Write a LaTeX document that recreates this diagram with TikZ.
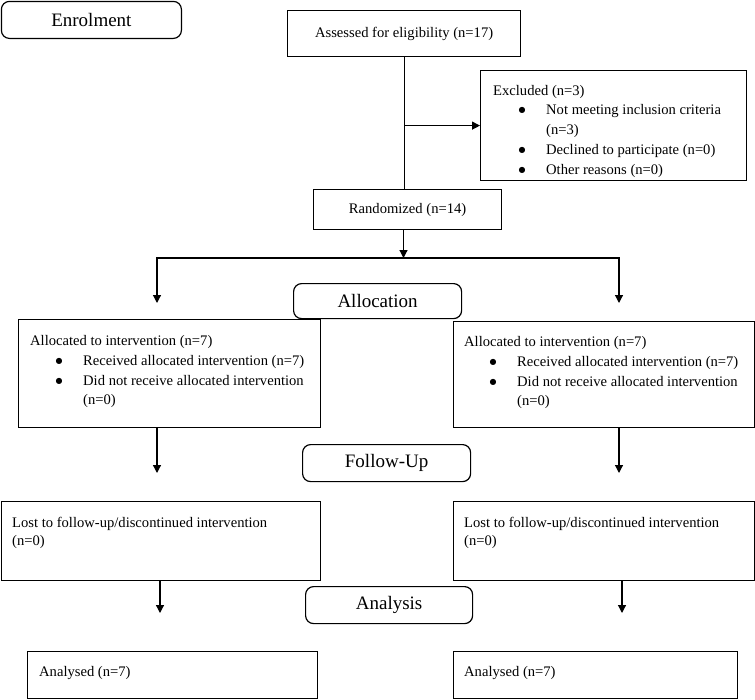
\documentclass[tikz,border=0pt]{standalone}
\usepackage{fontspec}
\setmainfont{Liberation Serif}
\newfontfamily\symfont{DejaVu Sans}
\usetikzlibrary{arrows.meta}
\newcommand\bitem[1]{\makebox[53pt][l]{\hspace*{25.5pt}\raisebox{2pt}{\symfont\fontsize{8}{8}\selectfont ●}}#1}
\newcommand\bcont[1]{\hspace*{53pt}#1}
\begin{document}
\begin{tikzpicture}[x=1pt,y=-1pt,
  box/.style={draw, line width=1.2pt, anchor=north west, inner sep=0pt, font=\fontsize{14.6}{20}\selectfont},
  head/.style={draw, line width=1.2pt, rounded corners=8pt, anchor=north west, inner sep=0pt, font=\fontsize{19}{23}\selectfont},
  txt/.style={anchor=base west, inner sep=0pt, font=\fontsize{14.6}{19.8}\selectfont},
  arr/.style={line width=1.2pt, -{Triangle[length=8pt,width=8pt]}},
  con/.style={line width=1.2pt}]
\useasboundingbox (0,0) rectangle (755,699);

% stage headers
\node[head, minimum width=180pt, minimum height=37pt] (enrol) at (0.8,0.8) {Enrolment};
\node[head, minimum width=168pt, minimum height=35pt] (alloc) at (293,283) {Allocation};
\node[head, minimum width=168pt, minimum height=37pt] (follow) at (302,444) {Follow-Up};
\node[head, minimum width=167pt, minimum height=37pt] (analysis) at (305,586) {Analysis};

% boxes
\node[box, minimum width=233pt, minimum height=46pt] (assess) at (287,10) {Assessed for eligibility (n=17)};
\node[box, minimum width=266pt, minimum height=110pt] (excl) at (480,70) {};
\node[box, minimum width=188pt, minimum height=40pt] (rand) at (313,189) {Randomized (n=14)};
\node[box, minimum width=302pt, minimum height=108pt] (allocL) at (18,319) {};
\node[box, minimum width=301pt, minimum height=106pt] (allocR) at (453,321) {};
\node[box, minimum width=319pt, minimum height=79pt] (lostL) at (0.8,501) {};
\node[box, minimum width=301pt, minimum height=79pt] (lostR) at (453,501) {};
\node[box, minimum width=290pt, minimum height=47pt] (anaL) at (27,651) {};
\node[box, minimum width=284pt, minimum height=47pt] (anaR) at (453,651) {};

% box texts
\node[txt] (exclT) at (493,95) {\begin{tabular}[t]{@{}l@{}}
Excluded (n=3)\\
\bitem{Not meeting inclusion criteria}\\
\bcont{(n=3)}\\
\bitem{Declined to participate (n=0)}\\
\bitem{Other reasons (n=0)}
\end{tabular}};
\node[txt] (allocLT) at (30,345.5) {\begin{tabular}[t]{@{}l@{}}
Allocated to intervention (n=7)\\
\bitem{Received allocated intervention (n=7)}\\
\bitem{Did not receive allocated intervention}\\
\bcont{(n=0)}
\end{tabular}};
\node[txt] (allocRT) at (464,346.5) {\begin{tabular}[t]{@{}l@{}}
Allocated to intervention (n=7)\\
\bitem{Received allocated intervention (n=7)}\\
\bitem{Did not receive allocated intervention}\\
\bcont{(n=0)}
\end{tabular}};
\node[txt] (lostLT) at (12,527) {\begin{tabular}[t]{@{}l@{}}
Lost to follow-up/discontinued intervention\\[-1.3pt]
(n=0)
\end{tabular}};
\node[txt] (lostRT) at (464,527) {\begin{tabular}[t]{@{}l@{}}
Lost to follow-up/discontinued intervention\\[-1.3pt]
(n=0)
\end{tabular}};
\node[txt] (anaLT) at (39,676) {Analysed (n=7)};
\node[txt] (anaRT) at (464,676) {Analysed (n=7)};

% connectors
\draw[con] (assess.south) -- (assess.south |- rand.north);
\draw[arr] (assess.south |- excl.west) -- (excl.west);
\coordinate (split) at (403.5,258);
\draw[arr] (rand.south -| split) -- (split);
\coordinate (tL1) at (157,303);
\coordinate (tR1) at (619,303);
\draw[arr] (split) -| (tL1);
\draw[arr] (split) -| (tR1);
\coordinate (tL2) at (157,473);
\coordinate (tR2) at (619,473);
\draw[arr] (allocL.south -| tL2) -- (tL2);
\draw[arr] (allocR.south -| tR2) -- (tR2);
\coordinate (tL3) at (160,613);
\coordinate (tR3) at (622,613);
\draw[arr] (lostL.south -| tL3) -- (tL3);
\draw[arr] (lostR.south -| tR3) -- (tR3);
\end{tikzpicture}
\end{document}
